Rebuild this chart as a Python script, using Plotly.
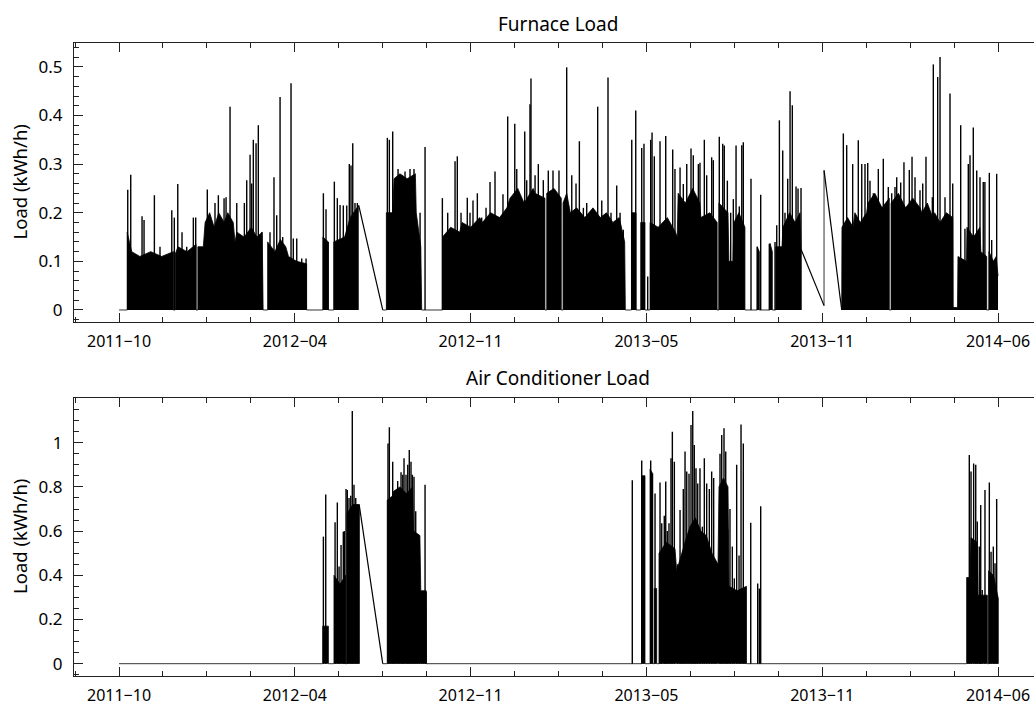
import pandas as pd
import plotly.graph_objects as go

# ---------------- data (day offsets from the first sample) ----------------
start_date = pd.Timestamp("2011-10-13")
end_date = pd.Timestamp("2014-06-09")
tick_labels = ["2011−10", "2012−04", "2012−11", "2013−05", "2013−11", "2014−06"]

furnace_yticks = [0, 0.1, 0.2, 0.3, 0.4, 0.5]
ac_yticks = [0, 0.2, 0.4, 0.6, 0.8, 1.0]

furnace_band_day = [
    0, 9, 9, 14, 23, 35, 47, 60, 60, 62,
    62, 65, 75, 85, 85, 87, 87, 93, 95, 100,
    105, 110, 116, 120, 126, 128, 130, 138, 146, 152,
    158, 159, 164, 164, 172, 178, 184, 187, 196, 207,
    207, 225, 225, 231, 231, 237, 237, 249, 255, 264.5,
    None,
    291, 295, 295, 302, 303.5, 310, 318, 327, 328, 333,
    334, 357, 357, 366, 376, 378.5, 388, 398, 401, 410,
    420, 428, 431.5, 440, 447, 457, 459, 470, 470, 472,
    472, 480, 488, 488, 490, 490, 494, 498, 505, 514,
    523, 531, 538, 545, 552, 558, 558.7, 565.5, 565.5, 570.5,
    570.5, 575.7, 575.7, 580.4, 580.4, 586, 586, 595, 605, 614,
    616, 617, 625, 633, 641, 642, 652, 660, 660, 662,
    662, 672, 673, 677.5, 678.6, 684, 690.7, 690.7, 704.3, 704.3,
    706.6, 706.6, 718.4, 718.4, 720.9, 720.9, 724.7, 724.7, 731.6, 732.7,
    740, 746, 751.5, 752.6,
    None, 778, 778, None,
    797.5, 797.8, 804, 810, 812, 818, 825, 826.5, 834, 842,
    850, 850, 852, 852, 860, 868, 876, 884, 886, 892,
    898, 900, 906, 913, 920, 920.3, 925.3, 925.8, 935.2, 935.7,
    943, 950, 951, 957.5, 957.5, 960, 960, 965, 968, 970]
furnace_band_val = [
    0, 0, 0.16, 0.12, 0.11, 0.12, 0.11, 0.12, 0, 0,
    0.115, 0.13, 0.12, 0.135, 0, 0, 0.13, 0.13, 0.18, 0.2,
    0.17, 0.2, 0.18, 0.2, 0.18, 0.14, 0.16, 0.15, 0.17, 0.15,
    0.16, 0, 0, 0.14, 0.12, 0.145, 0.13, 0.11, 0.1, 0.095,
    0, 0, 0.15, 0.14, 0, 0, 0.14, 0.15, 0.19, 0.215,
    None,
    0, 0, 0.2, 0.2, 0.27, 0.28, 0.27, 0.28, 0.2, 0.13,
    0, 0, 0.15, 0.17, 0.16, 0.18, 0.17, 0.19, 0.18, 0.2,
    0.19, 0.21, 0.23, 0.25, 0.22, 0.25, 0.24, 0.23, 0, 0,
    0.24, 0.25, 0.23, 0, 0, 0.22, 0.24, 0.2, 0.21, 0.19,
    0.21, 0.19, 0.2, 0.18, 0.19, 0.14, 0, 0, 0.2, 0.2,
    0, 0, 0.18, 0.18, 0, 0, 0.18, 0.17, 0.19, 0.16,
    0.15, 0.24, 0.22, 0.25, 0.22, 0.19, 0.2, 0.18, 0, 0,
    0.22, 0.2, 0.1, 0.1, 0.18, 0.2, 0.17, 0, 0, 0.13,
    0.12, 0, 0, 0.137, 0.12, 0, 0, 0.13, 0.13, 0.17,
    0.2, 0.18, 0.2, 0.125,
    None, 0.009, 0.287, None,
    0, 0.17, 0.19, 0.17, 0.2, 0.18, 0.2, 0.22, 0.24, 0.21,
    0.23, 0, 0, 0.22, 0.24, 0.21, 0.23, 0.21, 0.2, 0.22,
    0.19, 0.2, 0.18, 0.2, 0.19, 0.005, 0.005, 0.11, 0.1, 0.17,
    0.15, 0.17, 0.12, 0.11, 0, 0, 0.12, 0.1, 0.11, 0.07]

furnace_peak_day = [
    9.6, 12.9, 25.4, 27.6, 39.0, 45.2, 58.2, 61.0, 64.8, 69.5,
    74.7, 82.0, 84.6, 97.4, 105.9, 109.6, 115.9, 118.1, 122.5, 129.9,
    138.3, 140.9, 144.6, 146.4, 148.2, 151.2, 153.7, 157.5, 166.6, 171.0,
    174.0, 177.7, 180.6, 189.8, 192.3, 196.1, 201.6, 206.4, 225.5, 228.4,
    230.6, 237.6, 240.9, 243.9, 247.5, 251.3, 254.1, 256.0, 257.9, 260.4,
    263.0, 296.1, 298.3, 302.0, 307.9, 315.6, 321.1, 325.5, 332.2, 337.7,
    356.8, 362.7, 370.8, 373.3, 377.4, 384.3, 387.3, 390.6, 395.4, 400.2,
    405.0, 409.4, 414.9, 423.7, 428.9, 436.7, 438.9, 447.7, 449.9, 453.5,
    454.6, 459.1, 462.7, 468.2, 473.7, 478.9, 485.5, 494.0, 499.6, 504.3,
    508.0, 512.4, 516.1, 519.8, 528.2, 532.7, 539.6, 542.9, 549.2, 552.9,
    556.5, 565.8, 570.2, 576.8, 579.3, 583.4, 586.7, 588.2, 590.7, 597.0,
    603.3, 611.0, 613.5, 619.1, 622.7, 626.5, 631.2, 633.7, 639.3, 641.1,
    645.9, 648.5, 654.0, 655.8, 662.4, 666.2, 667.9, 671.3, 675.0, 677.9,
    680.9, 684.5, 687.2, 688.9, 697.4, 704.3, 708.1, 717.6, 723.9, 725.8,
    728.7, 732.4, 734.9, 737.9, 740.5, 743.0, 747.1, 749.3, 752.6, 799.3,
    803.0, 809.6, 815.8, 819.6, 823.2, 826.2, 828.7, 832.4, 837.9, 843.4,
    848.9, 852.7, 856.3, 858.2, 862.6, 866.2, 869.2, 872.1, 875.1, 878.4,
    883.9, 886.9, 890.5, 897.5, 898.6, 903.4, 906.0, 911.5, 917.0, 920.0,
    928.8, 933.5, 937.2, 939.1, 942.7, 946.5, 950.1, 953.7, 955.5, 960.4,
    963.0, 968.5]
furnace_peak_val = [
    0.247, 0.278, 0.193, 0.185, 0.236, 0.13, 0.205, 0.19, 0.259, 0.16,
    0.13, 0.19, 0.19, 0.248, 0.22, 0.236, 0.23, 0.232, 0.418, 0.22,
    0.22, 0.267, 0.319, 0.26, 0.35, 0.343, 0.38, 0.16, 0.16, 0.273,
    0.195, 0.438, 0.15, 0.466, 0.147, 0.147, 0.106, 0.106, 0.24, 0.207,
    0.14, 0.264, 0.23, 0.216, 0.215, 0.215, 0.3, 0.297, 0.343, 0.22,
    0.22, 0.354, 0.35, 0.367, 0.29, 0.285, 0.29, 0.29, 0.2, 0.335,
    0.23, 0.2, 0.306, 0.316, 0.2, 0.231, 0.2, 0.225, 0.24, 0.19,
    0.21, 0.263, 0.285, 0.238, 0.398, 0.383, 0.29, 0.367, 0.267, 0.423,
    0.476, 0.277, 0.3, 0.267, 0.287, 0.287, 0.287, 0.499, 0.277, 0.26,
    0.347, 0.21, 0.22, 0.2, 0.418, 0.225, 0.478, 0.2, 0.256, 0.2,
    0.165, 0.35, 0.41, 0.333, 0.342, 0.069, 0.35, 0.365, 0.316, 0.347,
    0.358, 0.33, 0.29, 0.293, 0.259, 0.3, 0.332, 0.318, 0.3, 0.303,
    0.35, 0.277, 0.314, 0.308, 0.356, 0.342, 0.338, 0.266, 0.2, 0.228,
    0.338, 0.213, 0.339, 0.345, 0.27, 0.13, 0.237, 0.136, 0.14, 0.174,
    0.39, 0.328, 0.2, 0.27, 0.45, 0.421, 0.254, 0.25, 0.251, 0.363,
    0.339, 0.3, 0.349, 0.3, 0.3, 0.302, 0.266, 0.24, 0.29, 0.311,
    0.253, 0.24, 0.253, 0.273, 0.262, 0.304, 0.212, 0.288, 0.315, 0.273,
    0.246, 0.26, 0.315, 0.232, 0.505, 0.479, 0.52, 0.232, 0.445, 0.26,
    0.38, 0.167, 0.3, 0.318, 0.375, 0.287, 0.273, 0.263, 0.263, 0.282,
    0.144, 0.28]

ac_band_day = [
    0, 224.8, 224.8, 231, 231, 237.2, 237.2, 244, 250, 250,
    251.6, 251.6, 258, 265, None,
    291, 296, 296, 302, 303, 310, 317, 324, 325, 332,
    333, 339, 339.3, 576.8, 576.8, 580.4, 580.4, 586, 586, 589,
    589, 590.7, 590.7, 593.3, 593.3, 595.9, 595.9, 604, 613.5, 615.4,
    624.6, 630, 636, 642, 648, 654.3, 661, 662.1, 667, 672,
    673.1, 682, 692.4, 692.4, 935.4, 935.4, 939.1, 940.2, 946.8, 947.9,
    958.2, 958.2, 959.6, 959.6, 965, 970]
ac_band_val = [
    0, 0, 0.17, 0.17, 0, 0, 0.4, 0.36, 0.4, 0,
    0, 0.68, 0.72, 0.72, None,
    0, 0, 0.74, 0.76, 0.78, 0.8, 0.77, 0.8, 0.6, 0.58,
    0.33, 0.33, 0, 0, 0.85, 0.85, 0, 0, 0.88, 0.86,
    0, 0, 0.34, 0.34, 0, 0, 0.5, 0.55, 0.52, 0.42,
    0.55, 0.62, 0.66, 0.6, 0.58, 0.5, 0.45, 0.8, 0.84, 0.8,
    0.35, 0.33, 0.35, 0, 0, 0.39, 0.39, 0.57, 0.55, 0.31,
    0.31, 0, 0, 0.42, 0.4, 0.3]

ac_peak_day = [
    225.5, 228.1, 238.4, 240.9, 242.8, 245.0, 247.5, 248.6, 250.5, 251.9,
    253.8, 255.7, 257.4, 259.3, 261.2, 263.0, 264.9, 296.8, 298.3, 300.2,
    302.0, 303.8, 305.3, 307.5, 309.3, 311.2, 313.1, 314.5, 316.7, 318.6,
    320.3, 322.2, 323.7, 325.5, 327.4, 329.2, 331.1, 333.6, 335.8, 337.7,
    338.8, 566.4, 576.8, 579.3, 586.7, 588.5, 591.5, 597.0, 598.9, 601.7,
    603.3, 605.0, 606.9, 609.1, 610.6, 612.8, 616.5, 619.1, 620.9, 622.7,
    624.6, 626.5, 629.0, 631.2, 633.1, 634.8, 636.7, 638.6, 641.1, 643.7,
    645.9, 648.5, 651.4, 654.0, 656.2, 658.5, 663.2, 665.1, 667.6, 669.5,
    671.7, 674.2, 676.8, 679.0, 681.6, 684.2, 686.4, 688.9, 690.8, 697.1,
    704.8, 706.6, 708.1, 936.5, 938.3, 940.2, 943.1, 945.4, 947.1, 949.3,
    950.9, 952.6, 955.6, 960.4, 962.3, 964.8, 966.7, 968.5, 970.0]
ac_peak_val = [
    0.575, 0.766, 0.64, 0.73, 0.44, 0.537, 0.597, 0.6, 0.79, 0.786,
    0.75, 0.76, 1.143, 0.81, 0.75, 0.72, 0.72, 0.997, 1.07, 0.7,
    0.914, 0.58, 0.72, 0.827, 0.79, 0.866, 0.855, 0.93, 0.855, 0.9,
    0.967, 0.914, 0.855, 0.846, 0.69, 0.567, 0.37, 0.28, 0.326, 0.81,
    0.326, 0.83, 0.92, 0.85, 0.92, 0.86, 0.77, 0.82, 0.635, 0.67,
    0.824, 0.6, 0.635, 0.93, 1.05, 0.914, 0.45, 0.695, 0.45, 0.79,
    0.96, 0.87, 0.86, 1.08, 1.143, 0.99, 0.884, 0.816, 0.884, 0.62,
    0.93, 0.816, 0.79, 0.87, 0.84, 0.45, 0.95, 1.035, 1.065, 0.96,
    0.61, 0.7, 0.53, 0.386, 0.9, 0.49, 1.083, 0.997, 0.31, 0.638,
    0.363, 0.34, 0.713, 0.386, 0.944, 0.87, 0.906, 0.9, 0.643, 0.53,
    0.718, 0.333, 0.786, 0.82, 0.507, 0.53, 0.455, 0.745, 0.3]

assert len(furnace_band_day) == len(furnace_band_val)
assert len(furnace_peak_day) == len(furnace_peak_val)
assert len(ac_band_day) == len(ac_band_val)
assert len(ac_peak_day) == len(ac_peak_val)

def to_date(d):
    return None if d is None else start_date + pd.Timedelta(days=d)

def segments(days, vals):
    segs, cur = [], []
    for d, v in zip(days, vals):
        if d is None:
            if cur:
                segs.append(cur)
            cur = []
        else:
            cur.append((d, v))
    if cur:
        segs.append(cur)
    return segs

INK = "#000000"
FRAME = "#222222"
fig = go.Figure()

def add_series(days, vals, pdays, pvals, xa, ya):
    segs = segments(days, vals)
    for s in segs:
        fig.add_trace(go.Scatter(
            x=[to_date(d) for d, _ in s], y=[v for _, v in s],
            mode="lines", line=dict(color=INK, width=0.8),
            fill="tozeroy", fillcolor=INK, xaxis=xa, yaxis=ya, hoverinfo="skip"))
    # straight joins across missing-data spans
    bx, by = [], []
    for a, b in zip(segs[:-1], segs[1:]):
        bx += [to_date(a[-1][0]), to_date(b[0][0]), None]
        by += [a[-1][1], b[0][1], None]
    fig.add_trace(go.Scatter(x=bx, y=by, mode="lines", line=dict(color=INK, width=1.2),
                             xaxis=xa, yaxis=ya, hoverinfo="skip"))
    sx, sy = [], []
    for d, v in zip(pdays, pvals):
        sx += [to_date(d), to_date(d), None]
        sy += [0, v, None]
    fig.add_trace(go.Scatter(x=sx, y=sy, mode="lines", line=dict(color=INK, width=1.4),
                             xaxis=xa, yaxis=ya, hoverinfo="skip"))

add_series(furnace_band_day, furnace_band_val, furnace_peak_day, furnace_peak_val, "x", "y")
add_series(ac_band_day, ac_band_val, ac_peak_day, ac_peak_val, "x2", "y2")

W, H = 1034, 705
span = end_date - start_date
tick_dates = [start_date + span * k / 5 for k in range(6)]
x_range = [start_date - pd.Timedelta(days=49.7), start_date + pd.Timedelta(days=1009.7)]
minor_dates = [start_date + span * k / 20 for k in range(-1, 22)
               if x_range[0] <= start_date + span * k / 20 <= x_range[1]]

def fy(p):
    return 1 - p / H

def xaxis_cfg(anchor):
    return dict(
        type="date", range=x_range, domain=[74 / W, 1], anchor=anchor,
        tickmode="array", tickvals=tick_dates, ticktext=tick_labels,
        ticks="inside", ticklen=9, tickwidth=1, tickcolor=FRAME,
        showline=True, linecolor=FRAME, linewidth=1, mirror="ticks",
        showgrid=False, zeroline=False, ticklabelstandoff=5,
        tickfont=dict(size=16),
        minor=dict(tickmode="array", tickvals=minor_dates, ticks="inside",
                   ticklen=5, tickwidth=1, tickcolor=FRAME, showgrid=False))

def yaxis_cfg(domain, rng, ticks, minor_step, anchor):
    return dict(
        domain=domain, range=rng, anchor=anchor,
        tickmode="array", tickvals=ticks, ticktext=[f"{t:g}" for t in ticks],
        ticks="inside", ticklen=9, tickwidth=1, tickcolor=FRAME,
        showline=True, linecolor=FRAME, linewidth=1, mirror=False,
        showgrid=False, zeroline=False, ticklabelstandoff=7,
        tickfont=dict(size=17),
        minor=dict(tick0=0, dtick=minor_step, ticks="inside", ticklen=5,
                   tickwidth=1, tickcolor=FRAME, showgrid=False))

fig.update_layout(
    width=W, height=H, margin=dict(l=0, r=0, t=0, b=0),
    paper_bgcolor="white", plot_bgcolor="white", showlegend=False,
    font=dict(family="Noto Sans", size=16, color="black"),
    xaxis=xaxis_cfg("y"),
    yaxis=yaxis_cfg([fy(322), fy(43)], [-0.0247, 0.549], furnace_yticks, 0.02, "x"),
    xaxis2=xaxis_cfg("y2"),
    yaxis2=yaxis_cfg([fy(676), fy(398.3)], [-0.0557, 1.201], ac_yticks, 0.05, "x2"),
)

title_x = 557.5 / W
fig.add_annotation(text="Furnace Load", x=title_x, y=fy(24), xref="paper", yref="paper",
                   showarrow=False, font=dict(size=19), xanchor="center", yanchor="middle")
fig.add_annotation(text="Air Conditioner Load", x=title_x, y=fy(378), xref="paper", yref="paper",
                   showarrow=False, font=dict(size=19), xanchor="center", yanchor="middle")
fig.add_annotation(text="Load (kWh/h)", x=19 / W, y=fy(182.5), xref="paper", yref="paper",
                   showarrow=False, textangle=-90, font=dict(size=18.5), xanchor="center", yanchor="middle")
fig.add_annotation(text="Load (kWh/h)", x=19 / W, y=fy(537), xref="paper", yref="paper",
                   showarrow=False, textangle=-90, font=dict(size=18.5), xanchor="center", yanchor="middle")

fig.write_html("out.html")
